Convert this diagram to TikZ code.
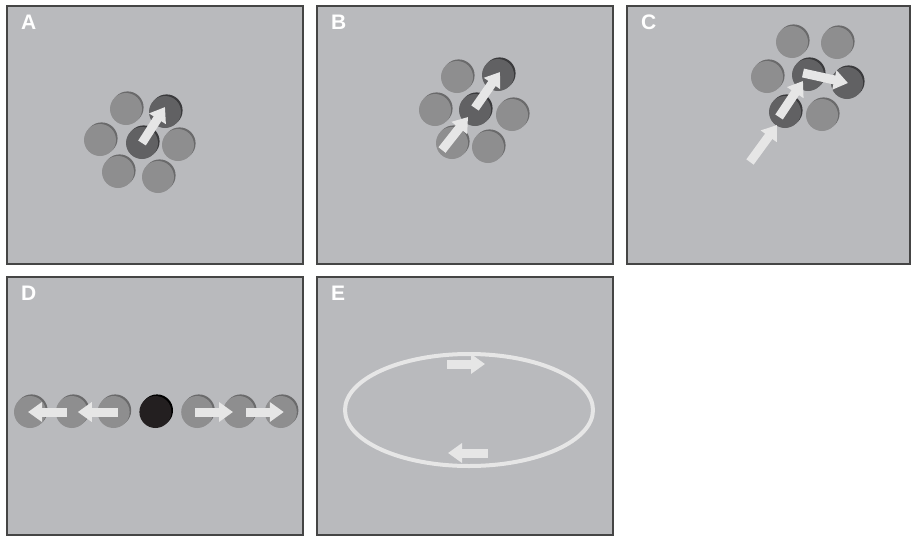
\documentclass[tikz,border=0pt]{standalone}
\usepackage{fontspec}
\setmainfont{Liberation Sans}
\usetikzlibrary{arrows.meta,shadows,calc,shapes.geometric}

\definecolor{panelgray}{HTML}{B9BABD}
\definecolor{cLight}{HTML}{8E8E8F}
\definecolor{cLightShade}{HTML}{6A6A6B}
\definecolor{cDark}{HTML}{616163}
\definecolor{cDarkShade}{HTML}{3A3A3C}
\definecolor{cBlack}{HTML}{231F20}
\definecolor{cArrow}{HTML}{E6E6E6}
\definecolor{cFrame}{HTML}{454545}

\tikzset{
  panel/.style={draw=cFrame, line width=1.5, fill=panelgray},
  letter/.style={anchor=north west, inner sep=0, text=white,
                 font=\fontsize{21}{21}\selectfont\bfseries},
  disk/.style 2 args={circle, inner sep=0, minimum size=32, fill=#1,
                 drop shadow={shadow xshift=1.6, shadow yshift=-1.6,
                              opacity=1, fill=#2}},
  litdisk/.style={disk={cLight}{cLightShade}},
  dimdisk/.style={disk={cDark}{cDarkShade}},
  blackdisk/.style={disk={cBlack}{black}},
  fat/.style={draw=cArrow, line width=9,
              -{Triangle[width=19pt,length=14pt]}},
  orbit/.style={ellipse, draw=cArrow, line width=4, inner sep=0,
                minimum width=248, minimum height=112}
}

\begin{document}
\begin{tikzpicture}[x=1pt, y=-1pt]

      \useasboundingbox (0,0) rectangle (911,536);

      %Panels and their letters
      \foreach \lab/\xa/\ya/\xb/\yb in {A/7/6/303/264, B/317/6/613/264,
                                        C/627/6/910/264, D/7/277/303/535,
                                        E/317/277/613/535} {
        \draw [panel] (\xa,\ya) rectangle (\xb,\yb);
        \node [letter] (lab\lab) at (\xa+14,\ya+9) {\lab};
      }

      %A: one step
      \foreach \n/\px/\py in {1/126/109, 3/100/140, 5/178/145,
                              6/118/172, 7/158/177}
        \node [litdisk] (a\n) at (\px,\py) {};
      \node [dimdisk] (a2) at (165,112) {};
      \node [dimdisk] (a4) at (142,143) {};
      \draw [fat] (a4.center) -- ($(a2.center)+(0,-5)$);

      %B: two steps
      \foreach \n/\px/\py in {1/457/77, 3/435/110, 5/512/115,
                              6/452/143, 7/488/147}
        \node [litdisk] (b\n) at (\px,\py) {};
      \node [dimdisk] (b2) at (498,75) {};
      \node [dimdisk] (b4) at (475,110) {};
      \draw [fat] ($(b6.center)+(-10,7)$) -- ($(b4.center)+(-7,7)$);
      \draw [fat] ($(b4.center)+(0,-2)$) -- ($(b2.center)+(2,-3)$);

      %C: three steps
      \foreach \n/\px/\py in {1/792/42, 2/837/43, 3/767/77, 7/822/115}
        \node [litdisk] (c\n) at (\px,\py) {};
      \node [dimdisk] (c4) at (808,75) {};
      \node [dimdisk] (c5) at (847,83) {};
      \node [dimdisk] (c6) at (785,112) {};
      \coordinate (cin) at (750,162);
      \draw [fat] (cin) -- ($(c6.center)+(-8,13)$);
      \draw [fat] ($(c6.center)+(-6,5)$) -- ($(c4.center)+(-5,6)$);
      \draw [fat] ($(c4.center)+(-5,-2)$) -- ($(c5.center)+(1,0)$);

      %D: a row pushed apart
      \foreach \n in {1,2,3,5,6,7}
        \node [litdisk] (d\n) at (30+41.8*\n-41.8,412) {};
      \node [blackdisk] (d4) at (155.4,412) {};
      \draw [fat] ($(d2.center)+(-5,0)$) -- ($(d1.center)+(-2,0)$);
      \draw [fat] ($(d3.center)+(4,0)$) -- ($(d2.center)+(6,0)$);
      \draw [fat] ($(d5.center)+(-2,0)$) -- ($(d6.center)+(-6,0)$);
      \draw [fat] ($(d6.center)+(7,0)$) -- ($(d7.center)+(3,0)$);

      %E: a loop
      \node [orbit] (loop) at (469,410) {};
      \draw [fat] ($(loop.north)+(-22,12)$) -- ($(loop.north)+(16,12)$);
      \draw [fat] ($(loop.south)+(19,-15)$) -- ($(loop.south)+(-21,-15)$);

\end{tikzpicture}
\end{document}
